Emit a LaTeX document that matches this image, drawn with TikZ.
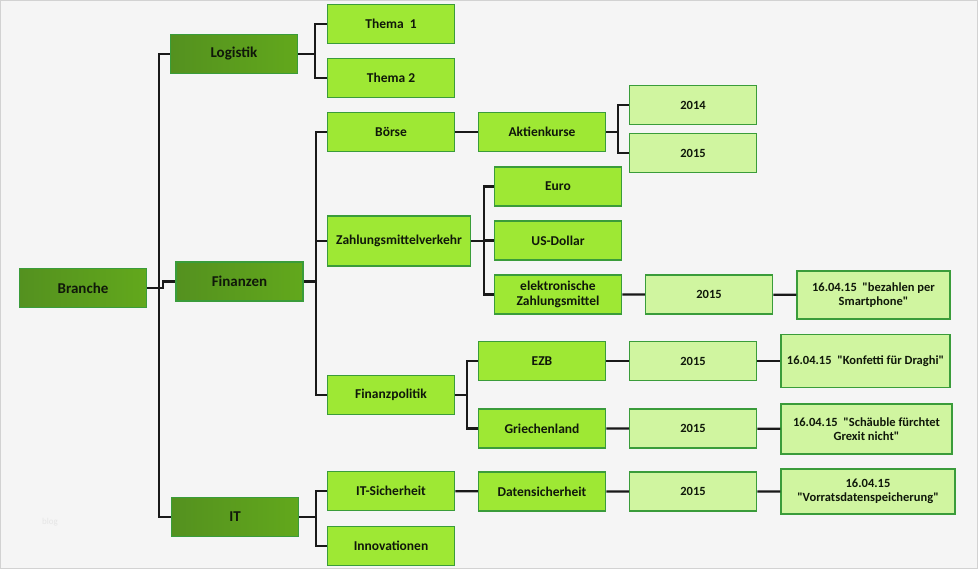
\documentclass[tikz,border=0pt]{standalone}
\usepackage{fontspec}
\setmainfont{Carlito}[Ligatures=TeXOff]
\definecolor{darkleaf}{HTML}{62A81C}
\definecolor{darkleafL}{HTML}{54911F}
\definecolor{brightleaf}{HTML}{9EE834}
\definecolor{paleleaf}{HTML}{D0F5A0}
\definecolor{boxrim}{HTML}{3A9C3A}
\definecolor{paper}{HTML}{F5F5F5}
\definecolor{ink}{HTML}{10180A}

\begin{document}
\begin{tikzpicture}[x=1pt,y=-1pt]
    \tikzstyle{box}=[draw=boxrim,line width=1.5pt,minimum width=127pt,minimum height=39pt,inner sep=1pt,align=center,text=ink]
    \tikzstyle{branch}=[box,left color=darkleafL,right color=darkleaf,font=\fontsize{15}{17}\selectfont\bfseries]
    \tikzstyle{twig}=[box,fill=brightleaf,font=\fontsize{13.5}{15}\selectfont\bfseries]
    \tikzstyle{leaf}=[box,fill=paleleaf,font=\fontsize{12.5}{14.5}\selectfont\bfseries]
    \tikzstyle{link}=[line width=2.3pt,black!90]
    \useasboundingbox (0,0) rectangle (978,569);
    \fill[paper] (0,0) rectangle (978,569);
    \draw[gray!35,line width=1pt] (0.5,0.5) rectangle (977.5,568.5);
    \node[gray!20,font=\fontsize{9}{10}\selectfont] (mark) at (50,522) {blog};
    % levels 0 and 1
    \node[branch] (branche) at (83,288) {Branche};
    \node[branch] (logistik) at (234,54) {Logistik};
    \node[branch] (finanzen) at (239.5,281.5) {Finanzen};
    \node[branch] (it) at (235,517) {IT};
    % level 2
    \node[twig] (thema_1) at (391,24) {Thema\ \ 1};
    \node[twig] (thema_2) at (391,78) {Thema 2};
    \node[twig] (boerse) at (391,132) {Börse};
    \node[twig,minimum width=143pt,minimum height=50pt] (zahlung) at (399,241) {Zahlungsmittelverkehr};
    \node[twig] (finanzpolitik) at (391,395) {Finanzpolitik};
    \node[twig] (sicherheit) at (391,491) {IT-Sicherheit};
    \node[twig] (innovation) at (391,546) {Innovationen};
    % level 3
    \node[twig] (aktien) at (542,132) {Aktienkurse};
    \node[twig] (euro) at (558,186.5) {Euro};
    \node[twig] (dollar) at (558,240.5) {US-Dollar};
    \node[twig] (elektro) at (558,294.5) {elektronische\\Zahlungsmittel};
    \node[twig] (ezb) at (542,361) {EZB};
    \node[twig] (griechen) at (542,428.5) {Griechenland};
    \node[twig] (daten) at (542,491.5) {Datensicherheit};
    % level 4
    \node[leaf] (y_2014) at (693,105) {2014};
    \node[leaf] (y_2015a) at (693,153) {2015};
    \node[leaf] (y_2015b) at (709,294.5) {2015};
    \node[leaf] (y_2015c) at (693,361) {2015};
    \node[leaf] (y_2015d) at (693,428.5) {2015};
    \node[leaf] (y_2015e) at (693,491.5) {2015};
    % level 5
    \node[leaf,minimum width=153pt,minimum height=48pt] (smartphone) at (873.5,295) {16.04.15\ \ "bezahlen per\\Smartphone"};
    \node[leaf,minimum width=169pt,minimum height=53pt] (draghi) at (865.5,361) {16.04.15\ \ "Konfetti für Draghi"};
    \node[leaf,minimum width=171pt,minimum height=50pt] (grexit) at (866.5,429) {16.04.15\ \ "Schäuble fürchtet\\Grexit nicht"};
    \node[leaf,minimum width=174pt,minimum height=45pt] (vorrat) at (868,491.5) {16.04.15\\"Vorratsdatenspeicherung"};
    % connectors
    \draw[link] (logistik.west) -- ++(-11,0) |- (it.west);
    \draw[link] (branche.east) -- ++(16,0) |- (finanzen.west);
    \draw[link] (logistik.east) -- ++(17,0) coordinate (bus_l) |- (thema_1.west);
    \draw[link] (bus_l) |- (thema_2.west);
    \draw[link] (finanzen.east) -- ++(12,0) coordinate (bus_f) |- (boerse.west);
    \draw[link] (bus_f) |- (zahlung.west);
    \draw[link] (bus_f) |- (finanzpolitik.west);
    \draw[link] (it.east) -- ++(17,0) coordinate (bus_i) |- (sicherheit.west);
    \draw[link] (bus_i) |- (innovation.west);
    \draw[link] (boerse) -- (aktien);
    \draw[link] (aktien.east) -- ++(12,0) coordinate (bus_a) |- (y_2014.west);
    \draw[link] (bus_a) |- (y_2015a.west);
    \draw[link] (zahlung.east) -- ++(13,0) coordinate (bus_z) |- (euro.west);
    \draw[link] (bus_z) |- (dollar.west);
    \draw[link] (bus_z) |- (elektro.west);
    \draw[link] (finanzpolitik.east) -- ++(12,0) coordinate (bus_p) |- (ezb.west);
    \draw[link] (bus_p) |- (griechen.west);
    \draw[link] (elektro) -- (y_2015b) -- (smartphone);
    \draw[link] (ezb) -- (y_2015c) -- (draghi);
    \draw[link] (griechen) -- (y_2015d) -- (grexit);
    \draw[link] (sicherheit) -- (daten) -- (y_2015e) -- (vorrat);
\end{tikzpicture}
\end{document}
